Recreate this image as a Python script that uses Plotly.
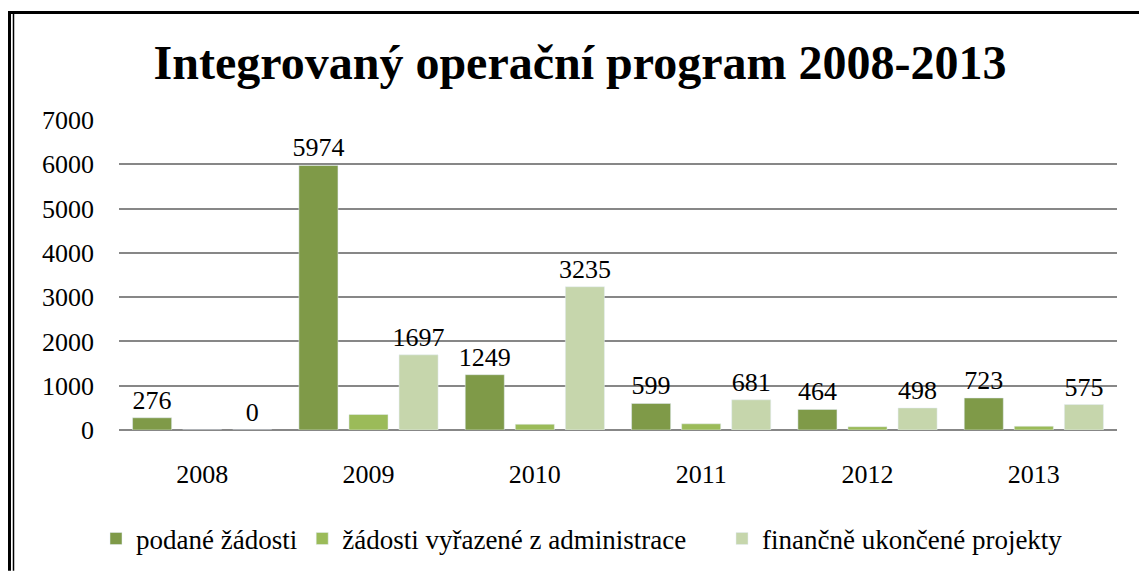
import plotly.graph_objects as go

years = ["2008", "2009", "2010", "2011", "2012", "2013"]
podane = [276, 5974, 1249, 599, 464, 723]
vyrazene = [0, 350, 130, 140, 75, 85]
ukoncene = [0, 1697, 3235, 681, 498, 575]

names = ["podané žádosti", "žádosti vyřazené z administrace", "finančně ukončené projekty"]
colors = ["#7F9A48", "#9BBB59", "#C6D6AC"]

FONT = "Liberation Serif"
FS = 26

fig = go.Figure()
fig.add_trace(go.Bar(x=years, y=podane, name=names[0], marker_color=colors[0],
                     text=[str(v) for v in podane], textposition="outside", constraintext="none",
                     textfont=dict(size=FS, color="black", family=FONT), cliponaxis=False,
                     legend="legend"))
fig.add_trace(go.Bar(x=years, y=vyrazene, name=names[1], marker_color=colors[1], legend="legend"))
fig.add_trace(go.Bar(x=years, y=ukoncene, name=names[2], marker_color=colors[2],
                     text=[str(v) for v in ukoncene], textposition="outside", constraintext="none",
                     textfont=dict(size=FS, color="black", family=FONT), cliponaxis=False,
                     legend="legend2"))

L, R, T, B = 119, 22, 120, 142
W, H = 1139, 575
pw, ph = W - L - R, H - T - B

def px(x):
    return (x - L) / pw

def py(y):
    return (H - B - y) / ph

shapes = [
    dict(type="line", xref="paper", yref="paper", x0=px(8), x1=px(1139), y0=py(11.5), y1=py(11.5),
         line=dict(color="black", width=3)),
    dict(type="line", xref="paper", yref="paper", x0=px(9.5), x1=px(9.5), y0=py(10), y1=py(575),
         line=dict(color="black", width=3)),
    dict(type="line", xref="paper", yref="paper", x0=px(13.5), x1=px(13.5), y0=py(13), y1=py(575),
         line=dict(color="black", width=1.5)),
]

legend_font = dict(family=FONT, size=27, color="black")

fig.update_layout(
    width=W, height=H,
    margin=dict(l=L, r=R, t=T, b=B),
    paper_bgcolor="white", plot_bgcolor="white",
    barmode="group", bargap=0.097, bargroupgap=0.22,
    font=dict(family=FONT, size=FS, color="black"),
    title=dict(text="<b>Integrovaný operační program 2008-2013</b>",
               font=dict(family=FONT, size=48, color="black"),
               x=580 / W, xanchor="center", xref="container", y=1 - 62 / H, yanchor="middle"),
    legend=dict(orientation="h", x=px(96), xanchor="left", y=py(543), yanchor="middle",
                font=legend_font, traceorder="normal"),
    legend2=dict(orientation="h", x=px(722), xanchor="left", y=py(543), yanchor="middle",
                 font=legend_font),
    shapes=shapes,
    showlegend=True,
)
fig.update_xaxes(showgrid=False, showline=False, ticks="", ticklabelstandoff=26,
                 tickfont=dict(family=FONT, size=FS, color="black"))
fig.update_yaxes(range=[0, 7000], dtick=1000, showgrid=True, gridcolor="#878787", gridwidth=2,
                 zeroline=True, zerolinecolor="#878787", zerolinewidth=2, showline=False,
                 ticks="", ticklabelstandoff=24, tickfont=dict(family=FONT, size=FS, color="black"))

fig.write_html("out.html", config={"displayModeBar": False},
               post_script="document.body.style.margin='0';document.body.style.overflow='hidden';")
